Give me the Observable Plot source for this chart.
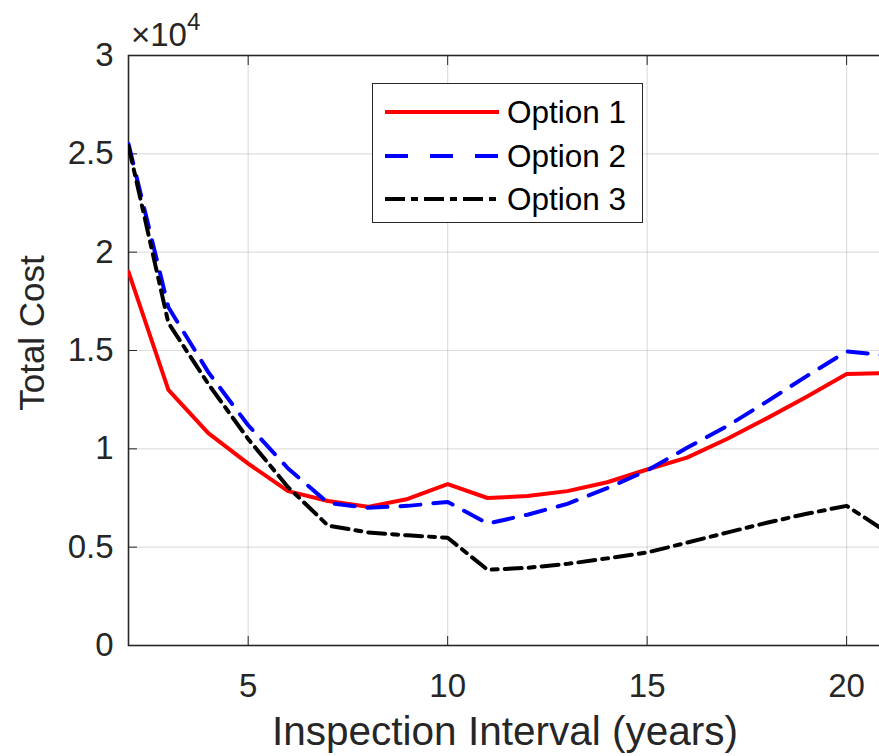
<!DOCTYPE html>
<html>
<head>
<meta charset="utf-8">
<script src="https://cdn.jsdelivr.net/npm/d3@7"></script>
<script src="https://cdn.jsdelivr.net/npm/@observablehq/plot@0.6"></script>
<style>
  html, body { margin: 0; padding: 0; background: #fff; overflow: hidden; width: 879px; height: 756px; }
  #wrap { position: relative; width: 879px; height: 756px; overflow: hidden; font-family: "Liberation Sans", Arial, sans-serif; }
  #chart { position: absolute; left: 0; top: 0; width: 887px; }
  #chart svg { max-width: none !important; }
  .exp { position: absolute; left: 131px; top: 14px; font-size: 33px; color: #262626; line-height: 1; }
  .exp sup { font-size: 24px; position: relative; top: -4px; }
  .legend { position: absolute; left: 372px; top: 83px; width: 271px; height: 140px; border: 1.5px solid #262626; background: #fff; box-sizing: border-box; }
  .legend .row { position: absolute; left: 12px; height: 40px; display: flex; align-items: center; }
  .legend .row span { font-size: 31.5px; color: #000; margin-left: 8px; }
</style>
</head>
<body>
<div id="wrap">
  <div id="chart"></div>
  <div class="exp">×10<sup>4</sup></div>
  <div class="legend" id="legend"></div>
</div>
<script>
const years = [2, 3, 4, 5, 6, 7, 8, 9, 10, 11, 12, 13, 14, 15, 16, 17, 18, 19, 20, 21];
const option1 = [19000, 13000, 10800, 9250, 7850, 7350, 7050, 7450, 8200, 7500, 7600, 7850, 8300, 8950, 9550, 10500, 11550, 12650, 13800, 13850];
const option2 = [25500, 17200, 13900, 11200, 9000, 7250, 7000, 7100, 7300, 6200, 6650, 7200, 8000, 8900, 10050, 11150, 12400, 13700, 14950, 14750];
const option3 = [25400, 16400, 13300, 10500, 8050, 6100, 5750, 5600, 5480, 3850, 3950, 4150, 4430, 4730, 5230, 5740, 6240, 6700, 7100, 5780];
const seriesNames = ["Option 1", "Option 2", "Option 3"];
const seriesColors = ["#ff0000", "#0000ff", "#000000"];
const seriesDash = [null, "20,13", "17,7,6,7"];
const xTicks = [5, 10, 15, 20];
const yTicks = [0, 5000, 10000, 15000, 20000, 25000, 30000];

const allSeries = [option1, option2, option3];
const data = [];
allSeries.forEach((vals, s) => vals.forEach((v, i) => data.push({series: seriesNames[s], year: years[i], cost: v})));

const ink = "#262626";
const fontSize = 33;

const marks = [
  Plot.gridX(xTicks, {stroke: "#000", strokeOpacity: 0.13, strokeWidth: 1.2}),
  Plot.gridY(yTicks, {stroke: "#000", strokeOpacity: 0.13, strokeWidth: 1.2}),
  Plot.axisX(xTicks, {anchor: "bottom", tickSize: -9, tickPadding: 37, stroke: ink, color: ink, fontSize: fontSize, label: null, tickFormat: d => String(d)}),
  Plot.axisX(xTicks, {anchor: "top", tickSize: -9, tickFormat: () => "", stroke: ink, label: null}),
  Plot.axisY(yTicks, {anchor: "left", tickSize: -9, tickPadding: 24, stroke: ink, color: ink, fontSize: fontSize, label: null, tickFormat: d => String(d / 10000)}),
  Plot.frame({stroke: ink, strokeWidth: 1.6}),
];
seriesNames.forEach((name, s) => {
  marks.push(Plot.line(data.filter(d => d.series === name), {
    x: "year", y: "cost", stroke: seriesColors[s], strokeWidth: 4,
    strokeDasharray: seriesDash[s] || undefined, strokeLinejoin: "round", clip: true
  }));
});

const chart = Plot.plot({
  width: 887,
  height: 756,
  marginLeft: 128,
  marginRight: 1,
  marginTop: 55,
  marginBottom: 111,
  style: {fontFamily: "'Liberation Sans', Arial, sans-serif", background: "#fff", overflow: "visible", maxWidth: "none"},
  x: {domain: [2, 21]},
  y: {domain: [0, 30000]},
  marks
});
chart.style.maxWidth = "none";
document.getElementById("chart").appendChild(chart);

// axis titles as text elements inside the svg
const svg = d3.select(chart);
svg.append("text").attr("x", 505).attr("y", 745)
  .attr("text-anchor", "middle").attr("font-size", 40.5).attr("fill", ink)
  .attr("font-family", "'Liberation Sans', Arial, sans-serif")
  .text("Inspection Interval (years)");
svg.append("text").attr("transform", "translate(44," + 333 + ") rotate(-90)")
  .attr("text-anchor", "middle").attr("font-size", 35).attr("fill", ink)
  .attr("font-family", "'Liberation Sans', Arial, sans-serif")
  .text("Total Cost");

// legend
const legend = document.getElementById("legend");
const rowTops = [8, 52, 95];
seriesNames.forEach((name, s) => {
  const row = document.createElement("div");
  row.className = "row";
  row.style.top = rowTops[s] + "px";
  const dash = seriesDash[s] ? ` stroke-dasharray="${s === 1 ? '23,22' : '20,6,7,6'}"` : "";
  row.innerHTML = `<svg width="114" height="10"><line x1="0" y1="5" x2="114" y2="5" stroke="${seriesColors[s]}" stroke-width="4"${dash}/></svg><span>${name}</span>`;
  legend.appendChild(row);
});
</script>
</body>
</html>
